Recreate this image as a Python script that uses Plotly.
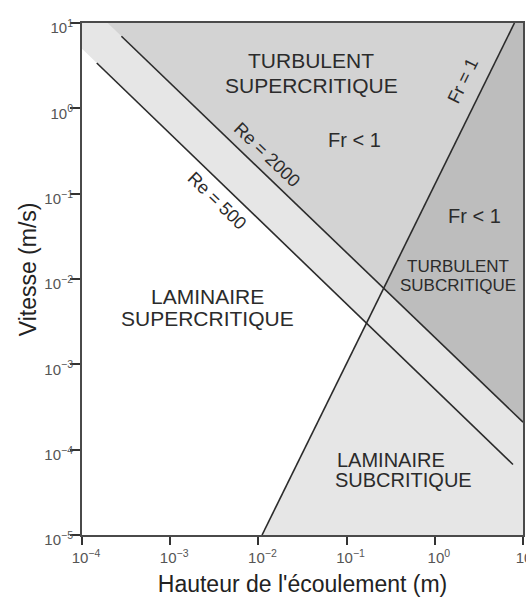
import numpy as np
import plotly.graph_objects as go

# ---- data ----
x_range_log = [-4, 1]          # Hauteur de l'écoulement (m), 1e-4 .. 1e1
y_range_log = [-5, 1]          # Vitesse (m/s), 1e-5 .. 1e1
tick_exps_x = [-4, -3, -2, -1, 0, 1]
tick_exps_y = [-5, -4, -3, -2, -1, 0, 1]

re500_h = [1.47e-4, 7.7]
re500_v = [3.4, 6.7e-5]
re2000_h = [2.8e-4, 10.0]
re2000_v = [7.0, 2.1e-4]
fr1_h = [0.011, 8.0]
fr1_v = [1e-5, 10.0]

col_white = "#ffffff"
col_light = "#e6e6e6"
col_mid = "#d3d3d3"
col_dark = "#bdbdbd"
line_col = "#2b2b2b"
text_col = "#2b2b2b"


def loglin(h, v):
    lx = np.log10(h)
    ly = np.log10(v)
    m = (ly[1] - ly[0]) / (lx[1] - lx[0])
    b = ly[0] - m * lx[0]
    return m, b


def y_at(l, lx):
    return l[0] * lx + l[1]


def x_at(l, ly):
    return (ly - l[1]) / l[0]


def inter(l1, l2):
    lx = (l2[1] - l1[1]) / (l1[0] - l2[0])
    return lx, y_at(l1, lx)


L500 = loglin(re500_h, re500_v)
L2000 = loglin(re2000_h, re2000_v)
LFR = loglin(fr1_h, fr1_v)
x0, x1 = x_range_log
y0, y1 = y_range_log

i500 = inter(LFR, L500)
i2000 = inter(LFR, L2000)

poly_light = [(x0, y_at(L500, x0)), (x0, y1), (x1, y1), (x1, y0),
              (x_at(LFR, y0), y0), i500, (x0, y_at(L500, x0))]
poly_mid = [(x_at(L2000, y1), y1), (x_at(LFR, y1), y1), i2000,
            (x_at(L2000, y1), y1)]
poly_dark = [(x_at(LFR, y1), y1), (x1, y1), (x1, y_at(L2000, x1)), i2000,
             (x_at(LFR, y1), y1)]

fig = go.Figure()
for poly, col in [(poly_light, col_light), (poly_mid, col_mid), (poly_dark, col_dark)]:
    px = [10 ** p[0] for p in poly]
    py = [10 ** p[1] for p in poly]
    fig.add_trace(go.Scatter(x=px, y=py, mode="lines", fill="toself",
                             fillcolor=col, line=dict(width=0, color=col),
                             hoverinfo="skip", showlegend=False))

for h, v in [(re500_h, re500_v), (re2000_h, re2000_v), (fr1_h, fr1_v)]:
    fig.add_trace(go.Scatter(x=h, y=v, mode="lines",
                             line=dict(color=line_col, width=1.6),
                             hoverinfo="skip", showlegend=False))

font_family = "Liberation Sans, Arial, Helvetica, sans-serif"


def ann(text, lx, ly, size, angle=0, xanchor="center"):
    fig.add_annotation(text=text, x=lx, y=ly, xref="x", yref="y",
                       showarrow=False, textangle=angle, xanchor=xanchor,
                       yanchor="middle",
                       font=dict(size=size, color=text_col, family=font_family))


ann("TURBULENT", -1.403, 0.563, 21)
ann("SUPERCRITIQUE", -1.403, 0.265, 21)
ann("Fr &lt; 1", -0.913, -0.374, 20)
ann("Fr &lt; 1", 0.450, -1.263, 20)
ann("TURBULENT", 0.268, -1.849, 17)
ann("SUBCRITIQUE", 0.268, -2.071, 17)
ann("LAMINAIRE", -2.576, -2.200, 21)
ann("SUPERCRITIQUE", -2.576, -2.458, 21)
ann("LAMINAIRE", -1.128, -4.121, 20, xanchor="left")
ann("SUBCRITIQUE", -1.150, -4.355, 20, xanchor="left")
ann("Re = 2000", -1.900, -0.549, 18, angle=44)
ann("Re = 500", -2.468, -1.088, 18, angle=44)
ann("Fr = 1", 0.325, 0.329, 18, angle=-64)


def tick_text(e):
    s = str(e).replace("-", "\u2212")
    return "10<sup>" + s + "</sup>"


axis_common = dict(
    type="log", showgrid=False, zeroline=False,
    showline=True, linecolor="#4a4a4a", linewidth=2, mirror=True,
    ticks="outside", tickcolor="#333333", tickwidth=2,
    tickfont=dict(size=15, color="#555555", family=font_family),
    automargin=False,
)

fig.update_xaxes(**axis_common, range=x_range_log, ticklen=8,
                 tickvals=[10 ** e for e in tick_exps_x],
                 ticktext=[tick_text(e) for e in tick_exps_x],
                 ticklabeloverflow="allow", ticklabelshift=4,
                 title=dict(text="Hauteur de l'écoulement (m)", standoff=11,
                            font=dict(size=23, color="#222222", family=font_family)))
fig.update_yaxes(**axis_common, range=y_range_log, ticklen=10,
                 tickvals=[10 ** e for e in tick_exps_y],
                 ticktext=[tick_text(e) for e in tick_exps_y],
                 ticklabelstandoff=-6, ticklabelshift=5,
                 ticklabeloverflow="allow",
                 title=dict(text="&nbsp;&nbsp;&nbsp;Vitesse (m/s)", standoff=1,
                            font=dict(size=23, color="#222222", family=font_family)))

fig.update_layout(
    width=526, height=598,
    margin=dict(l=82, r=3, t=23, b=63),
    paper_bgcolor="white", plot_bgcolor="white",
    template="none",
    showlegend=False,
    font=dict(family=font_family),
)

fig.write_html("out.html",
               config={"displayModeBar": False},
               post_script="document.body.style.margin='0';"
                           "document.body.style.overflow='hidden';")
